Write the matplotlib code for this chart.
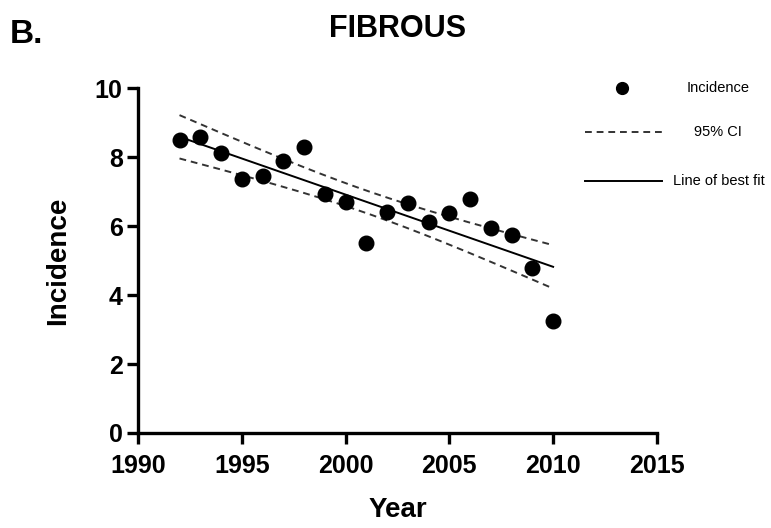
import matplotlib
matplotlib.use("Agg")
import matplotlib.pyplot as plt
from matplotlib.lines import Line2D
import numpy as np

plt.rcParams['font.family'] = ['Liberation Sans', 'DejaVu Sans']

years = np.array([1992, 1993, 1994, 1995, 1996, 1997, 1998, 1999, 2000, 2001,
                  2002, 2003, 2004, 2005, 2006, 2007, 2008, 2009, 2010])
incidence = np.array([8.49, 8.58, 8.12, 7.36, 7.45, 7.88, 8.29, 6.93, 6.70, 5.51,
                      6.41, 6.67, 6.12, 6.38, 6.78, 5.94, 5.74, 4.78, 3.25])
xticks = [1990, 1995, 2000, 2005, 2010, 2015]
yticks = [0, 2, 4, 6, 8, 10]

# linear regression + 95% CI of the mean
slope, icpt = np.polyfit(years, incidence, 1)
n = len(years)
resid = incidence - (slope * years + icpt)
se = np.sqrt(np.sum(resid ** 2) / (n - 2))
t = 2.110  # t(0.975, df=17)
xx = np.linspace(years.min(), years.max(), 200)
yy = slope * xx + icpt
xm = years.mean()
half = t * se * np.sqrt(1 / n + (xx - xm) ** 2 / np.sum((years - xm) ** 2))

fig = plt.figure(figsize=(7.71, 5.28), dpi=100)
ax = fig.add_axes([0.179, 0.18, 0.673, 0.653])

ax.plot(xx, yy, color='black', lw=1.4)
ax.plot(xx, yy + half, color='#333333', lw=1.4, ls=(0, (3.5, 2.5)))
ax.plot(xx, yy - half, color='#333333', lw=1.4, ls=(0, (3.5, 2.5)))
ax.plot(years, incidence, 'o', color='black', ms=10.5, zorder=3, clip_on=False)

ax.set_xlim(1990, 2015)
ax.set_ylim(0, 10)
ax.set_xticks(xticks)
ax.set_yticks(yticks)
for s in ['top', 'right']:
    ax.spines[s].set_visible(False)
for s in ['left', 'bottom']:
    ax.spines[s].set_linewidth(2.4)
ax.tick_params(width=2.4, length=8, labelsize=18)
ax.tick_params(axis='x', pad=7)
ax.tick_params(axis='y', pad=3)
for lab in ax.get_xticklabels() + ax.get_yticklabels():
    lab.set_fontweight('bold')

ax.set_xlabel('Year', fontsize=20, fontweight='bold', labelpad=14)
ax.set_ylabel('Incidence', fontsize=20, fontweight='bold', labelpad=17)

fig.text(0.515, 0.945, 'FIBROUS', fontsize=22, fontweight='bold', ha='center', va='center')
fig.text(0.012, 0.934, 'B.', fontsize=24, fontweight='bold', ha='left', va='center')

# legend drawn by hand to keep the centred text layout
fig.add_artist(Line2D([0.807], [1 - 88 / 528], marker='o', color='black', ms=8.5,
                      transform=fig.transFigure))
fig.text(0.932, 1 - 88 / 528, 'Incidence', fontsize=10.5, ha='center', va='center')
fig.add_artist(Line2D([0.759, 0.859], [1 - 132 / 528] * 2, color='#333333', lw=1.4,
                      ls=(0, (3.5, 2.5)), transform=fig.transFigure))
fig.text(0.931, 1 - 132 / 528, '95% CI', fontsize=10.5, ha='center', va='center')
fig.add_artist(Line2D([0.759, 0.859], [1 - 181 / 528] * 2, color='black', lw=1.4,
                      transform=fig.transFigure))
fig.text(0.933, 1 - 181 / 528, 'Line of best fit', fontsize=10.5, ha='center', va='center')

fig.savefig('out.png', dpi=100)
